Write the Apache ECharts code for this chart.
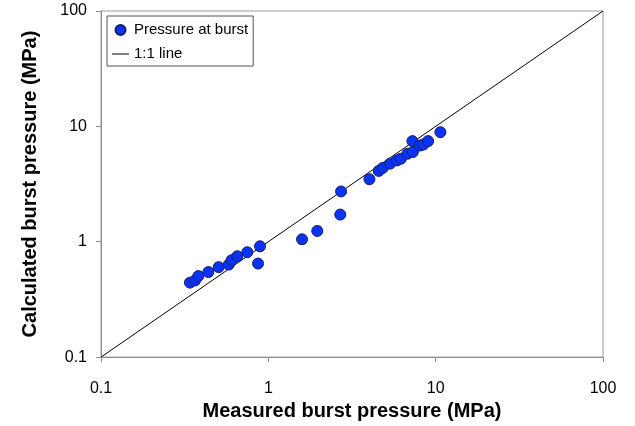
<!DOCTYPE html>
<html>
<head>
<meta charset="utf-8">
<script src="https://cdn.jsdelivr.net/npm/echarts@6/dist/echarts.min.js"></script>
<style>
html,body{margin:0;padding:0;background:#fff;}
#chart{width:635px;height:426px;}
</style>
</head>
<body>
<div id="chart"></div>
<script>
// Measured vs calculated burst pressure (MPa)
const measured = [0.340, 0.365, 0.382, 0.438, 0.505, 0.580, 0.604, 0.653, 0.749, 0.892, 0.868,
  1.59, 1.96, 2.69, 2.72, 4.02, 4.57, 4.83, 5.34, 5.86, 6.19, 6.78, 7.30, 7.26, 8.07, 8.44, 9.01, 10.67];
const calculated = [0.442, 0.462, 0.504, 0.546, 0.602, 0.634, 0.692, 0.749, 0.811, 0.913, 0.647,
  1.05, 1.24, 1.72, 2.73, 3.48, 4.11, 4.36, 4.75, 5.07, 5.24, 5.79, 5.99, 7.45, 6.82, 6.96, 7.45, 8.90];
const identityLine = [0.1, 100];
const tickLabels = ['0.1', '1', '10', '100'];

const fontFamily = '"Liberation Sans", "Open Sans", sans-serif';
const points = measured.map((m, i) => [m, calculated[i]]);
const lineData = identityLine.map(v => [v, v]);

const axisCommon = {
  type: 'log',
  logBase: 10,
  min: 0.1,
  max: 100,
  axisLine: { show: true, lineStyle: { color: '#8c8c8c', width: 1 } },
  axisTick: { show: true, length: 5, lineStyle: { color: '#8c8c8c' } },
  minorTick: { show: false },
  splitLine: { show: false },
  axisLabel: {
    color: '#000',
    fontSize: 16,
    fontFamily: fontFamily,
    formatter: v => tickLabels[Math.round(Math.log10(v)) + 1]
  },
  nameLocation: 'middle',
  nameTextStyle: { color: '#000', fontSize: 20, fontWeight: 'bold', fontFamily: fontFamily }
};

const chart = echarts.init(document.getElementById('chart'), null, { renderer: 'canvas' });
chart.setOption({
  animation: false,
  backgroundColor: '#fff',
  grid: {
    left: 101, right: 32, top: 11, bottom: 66,
    show: true, borderColor: '#9a9a9a', borderWidth: 1, containLabel: false
  },
  xAxis: Object.assign({}, axisCommon, {
    name: 'Measured burst pressure (MPa)',
    nameGap: 40,
    axisLabel: Object.assign({}, axisCommon.axisLabel, { margin: 23 })
  }),
  yAxis: Object.assign({}, axisCommon, {
    name: 'Calculated burst pressure (MPa)',
    nameGap: 61,
    axisLabel: Object.assign({}, axisCommon.axisLabel, { margin: 14 })
  }),
  legend: {
    orient: 'vertical',
    left: 107,
    top: 16,
    borderColor: '#555',
    borderWidth: 1,
    padding: [6, 5, 4, 5],
    itemGap: 8,
    itemWidth: 17,
    itemHeight: 10,
    textStyle: { color: '#000', fontSize: 15, lineHeight: 16, fontFamily: fontFamily },
    data: [
      { name: 'Pressure at burst', icon: 'circle' },
      { name: '1:1 line', icon: 'path://M0,0 L17,0 L17,1 L0,1 Z' }
    ]
  },
  series: [
    {
      name: '1:1 line',
      type: 'line',
      data: lineData,
      symbol: 'none',
      lineStyle: { color: '#000', width: 1 },
      itemStyle: { color: '#000' },
      z: 1
    },
    {
      name: 'Pressure at burst',
      type: 'scatter',
      data: points,
      symbol: 'circle',
      symbolSize: 11,
      itemStyle: { color: '#0b33f5', opacity: 1, borderColor: '#14206a', borderWidth: 1 },
      z: 2
    }
  ]
});
</script>
</body>
</html>
